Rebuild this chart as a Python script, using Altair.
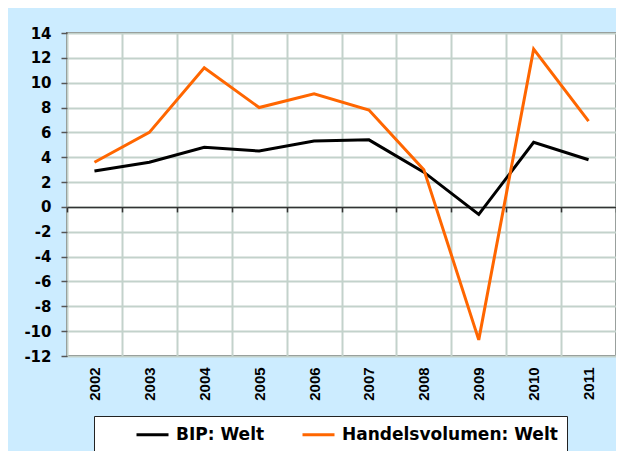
import altair as alt
import pandas as pd

years = ["2002", "2003", "2004", "2005", "2006", "2007", "2008", "2009", "2010", "2011"]
bip = [2.9, 3.6, 4.8, 4.5, 5.3, 5.4, 2.8, -0.6, 5.2, 3.8]
handel = [3.6, 6.0, 11.2, 8.0, 9.1, 7.8, 3.0, -10.7, 12.7, 6.9]
series = ["BIP: Welt", "Handelsvolumen: Welt"]
series_colors = ["#000000", "#FF6600"]
y_ticks = list(range(-12, 15, 2))
y_min, y_max = -12, 14

rows = []
for name, vals in zip(series, [bip, handel]):
    for yr, v in zip(years, vals):
        rows.append({"Jahr": yr, "Wert": v, "Serie": name})
df = pd.DataFrame(rows)

W, H = 549, 323
zero_offset = -H * (0 - y_min) / (y_max - y_min)

chart = alt.Chart(df).mark_line(strokeWidth=3, strokeJoin="miter").encode(
    x=alt.X(
        "Jahr:N",
        sort=years,
        bandPosition=0.5,
        scale=alt.Scale(type="band", paddingInner=0, paddingOuter=0),
        axis=alt.Axis(
            title=None,
            orient="bottom",
            offset=zero_offset,
            domainColor="#333333",
            domainWidth=1.5,
            tickColor="#333333",
            tickWidth=1.5,
            tickSize=5,
            tickBand="extent",
            grid=True,
            gridColor="#C3D2CB",
            gridWidth=2,
            labelAngle=-90,
            labelPadding=155,
            labelFont="Liberation Sans",
            labelFontSize=15,
            labelFontWeight="bold",
            labelColor="#000000",
        ),
    ),
    y=alt.Y(
        "Wert:Q",
        scale=alt.Scale(domain=[y_min, y_max], nice=False, zero=False),
        axis=alt.Axis(
            title=None,
            values=y_ticks,
            labelExpr="'' + datum.value",
            domain=False,
            tickColor="#555555",
            tickWidth=1.5,
            tickSize=6,
            labelPadding=10,
            labelFont="DejaVu Sans",
            labelFontSize=15,
            labelFontWeight="bold",
            labelColor="#000000",
            gridColor="#C3D2CB",
            gridWidth=2,
        ),
    ),
    color=alt.Color(
        "Serie:N",
        scale=alt.Scale(domain=series, range=series_colors),
        legend=alt.Legend(
            title=" ",
            titleOrient="left",
            titlePadding=32,
            titleFontSize=11,
            orient="none",
            legendX=27,
            legendY=383,
            direction="horizontal",
            symbolType="M-2,0H2",
            symbolSize=256,
            symbolOffset=8,
            symbolStrokeWidth=3,
            labelFont="DejaVu Sans",
            labelFontSize=17,
            labelFontWeight="bold",
            labelColor="#000000",
            labelOffset=14,
            labelLimit=400,
            columnPadding=31,
            padding=9,
            fillColor="#FFFFFF",
            strokeColor="#222222",
        ),
    ),
).properties(
    width=W,
    height=H,
    autosize=alt.AutoSizeParams(type="none"),
    padding={"left": 59, "top": 25, "right": 0, "bottom": 95},
    background="#CCECFF",
).configure_view(
    fill="#FFFFFF",
    stroke="#6E6E6E",
    strokeWidth=2,
)

chart.save("out.html", embed_options={"renderer": "svg", "actions": False})
